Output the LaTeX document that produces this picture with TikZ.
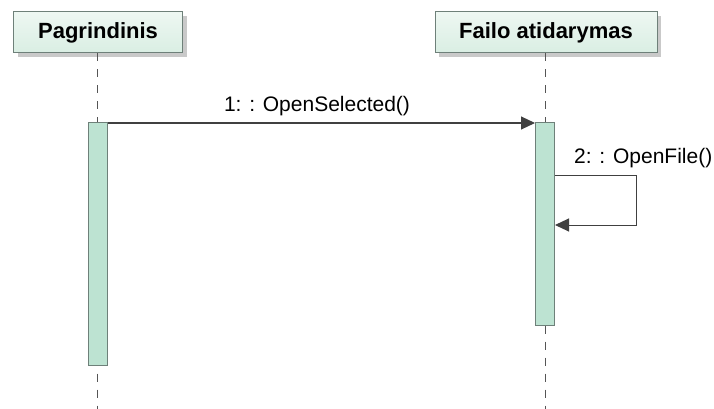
\documentclass[tikz,border=0pt]{standalone}
\usepackage{fontspec}
\setmainfont{Liberation Sans}
\usetikzlibrary{arrows.meta,shadows}
\definecolor{headfill}{HTML}{D9EEE3}
\definecolor{headtop}{HTML}{EEF7F2}
\definecolor{actfill}{HTML}{BDE3D2}
\definecolor{edgegrey}{HTML}{6E8079}
\definecolor{linegrey}{HTML}{555555}
\begin{document}
\begin{tikzpicture}[x=1pt,y=-1pt,
  header/.style={draw=edgegrey, line width=1pt, top color=headtop, bottom color=headfill,
    minimum width=#1, minimum height=41pt, inner sep=0pt,
    font=\fontsize{22}{25}\selectfont\bfseries,
    drop shadow={shadow xshift=4pt, shadow yshift=-4pt, fill=black!35, opacity=0.6}},
  lifeline/.style={draw=linegrey, line width=1pt, dash pattern=on 8pt off 8pt},
  activation/.style={draw=edgegrey, line width=1pt, fill=actfill,
    minimum width=19pt, minimum height=#1, inner sep=0pt},
  msg/.style={draw=black!75, line width=1pt,
    -{Triangle[length=14pt,width=13pt,fill=black!75]}},
  msglabel/.style={font=\fontsize{21}{24}\selectfont, anchor=base, inner sep=0pt}
]
\useasboundingbox[fill=white] (0,0) rectangle (714,409);

% object headers
\node[header=169pt] (h1) at (98,32.5) {Pagrindinis};
\node[header=222pt] (h2) at (546,32.5) {Failo atidarymas};

% lifelines
\coordinate (e1) at (97,409);
\coordinate (e2) at (545,409);
\draw[lifeline] (h1.south -| e1) -- (e1);
\draw[lifeline] (h2.south -| e2) -- (e2);

% activation bars
\node[activation=243pt, anchor=north] (a1) at (97.5,122) {};
\node[activation=203pt, anchor=north] (a2) at (545,122) {};

% message 1
\draw[msg] ([yshift=-1pt]a1.north east) -- ([yshift=-1pt]a2.north west);
\node[msglabel] (l1) at (317,112) {1: : OpenSelected()};

% message 2 (self call)
\coordinate (s1) at ([yshift=-53pt]a2.north east);
\coordinate (s2) at ([yshift=-103pt]a2.north east);
\draw[msg] (s1) -- ++(81,0) |- (s2);
\node[msglabel, anchor=base west] (l2) at (574,163) {2: : OpenFile()};
\end{tikzpicture}
\end{document}
